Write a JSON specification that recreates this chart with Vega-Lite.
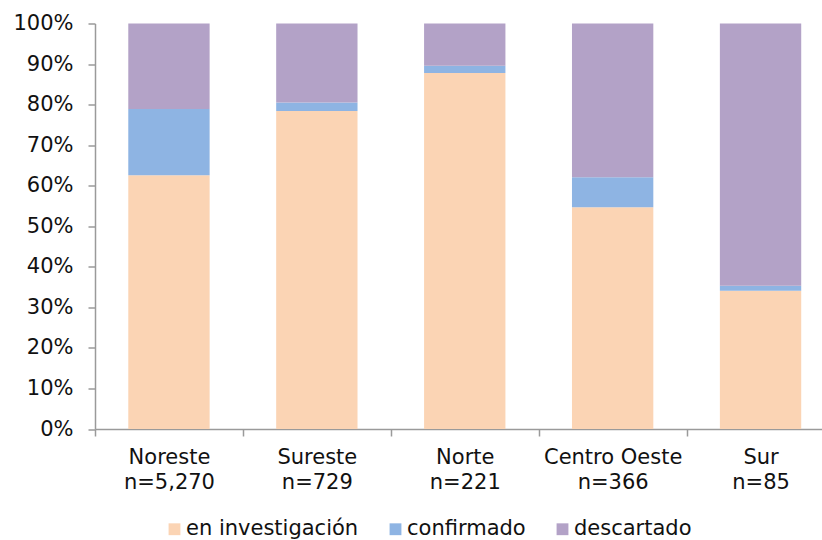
{
  "$schema": "https://vega.github.io/schema/vega-lite/v6.json",
  "autosize": {"type": "none"},
  "padding": {"left": 95, "top": 23.5, "right": 0, "bottom": 111},
  "width": 727,
  "height": 405.5,
  "background": "#ffffff",
  "config": {
    "view": {"stroke": null},
    "font": "DejaVu Sans"
  },
  "data": {
    "values": [
      {"region": "Noreste|n=5,270", "estado": "en investigación", "k": 1, "pct": 0.626},
      {"region": "Noreste|n=5,270", "estado": "confirmado", "k": 2, "pct": 0.163},
      {"region": "Noreste|n=5,270", "estado": "descartado", "k": 3, "pct": 0.211},
      {"region": "Sureste|n=729", "estado": "en investigación", "k": 1, "pct": 0.784},
      {"region": "Sureste|n=729", "estado": "confirmado", "k": 2, "pct": 0.021},
      {"region": "Sureste|n=729", "estado": "descartado", "k": 3, "pct": 0.195},
      {"region": "Norte|n=221", "estado": "en investigación", "k": 1, "pct": 0.878},
      {"region": "Norte|n=221", "estado": "confirmado", "k": 2, "pct": 0.018},
      {"region": "Norte|n=221", "estado": "descartado", "k": 3, "pct": 0.104},
      {"region": "Centro Oeste|n=366", "estado": "en investigación", "k": 1, "pct": 0.547},
      {"region": "Centro Oeste|n=366", "estado": "confirmado", "k": 2, "pct": 0.074},
      {"region": "Centro Oeste|n=366", "estado": "descartado", "k": 3, "pct": 0.379},
      {"region": "Sur|n=85", "estado": "en investigación", "k": 1, "pct": 0.341},
      {"region": "Sur|n=85", "estado": "confirmado", "k": 2, "pct": 0.012},
      {"region": "Sur|n=85", "estado": "descartado", "k": 3, "pct": 0.647}
    ]
  },
  "mark": {"type": "bar", "width": {"band": 0.55}},
  "encoding": {
    "x": {
      "field": "region",
      "type": "nominal",
      "sort": null,
      "scale": {"range": [0, 739.5], "paddingInner": 0, "paddingOuter": 0},
      "axis": {
        "title": null,
        "labelAngle": 0,
        "labelExpr": "isValid(datum.value) ? split(datum.value, '|') : ''",
        "labelFontSize": 21,
        "labelColor": "#111111",
        "labelLineHeight": 25,
        "labelPadding": 10,
        "tickBand": "extent",
        "tickSize": 7,
        "tickColor": "#9a9a9a",
        "tickWidth": 1.5,
        "domainColor": "#9a9a9a",
        "domainWidth": 1.5,
        "grid": false
      }
    },
    "y": {
      "field": "pct",
      "type": "quantitative",
      "stack": "zero",
      "scale": {"domain": [0, 1], "nice": false},
      "axis": {
        "title": null,
        "values": [0, 0.1, 0.2, 0.3, 0.4, 0.5, 0.6, 0.7, 0.8, 0.9, 1],
        "format": ".0%",
        "labelFontSize": 21,
        "labelColor": "#111111",
        "labelPadding": 15,
        "tickSize": 7,
        "tickColor": "#9a9a9a",
        "tickWidth": 1.5,
        "domainColor": "#9a9a9a",
        "domainWidth": 1.5,
        "grid": false
      }
    },
    "color": {
      "field": "estado",
      "type": "nominal",
      "scale": {
        "domain": ["en investigación", "confirmado", "descartado"],
        "range": ["#FBD4B4", "#8EB4E3", "#B3A2C7"]
      },
      "legend": {
        "title": null,
        "orient": "none",
        "direction": "horizontal",
        "legendX": 69,
        "legendY": 495,
        "symbolType": "square",
        "symbolSize": 140,
        "symbolStrokeWidth": 0,
        "labelFontSize": 21,
        "labelLimit": 400,
        "labelColor": "#111111",
        "labelOffset": 1,
        "columnPadding": 26
      }
    },
    "order": {"field": "k", "type": "quantitative"}
  }
}
